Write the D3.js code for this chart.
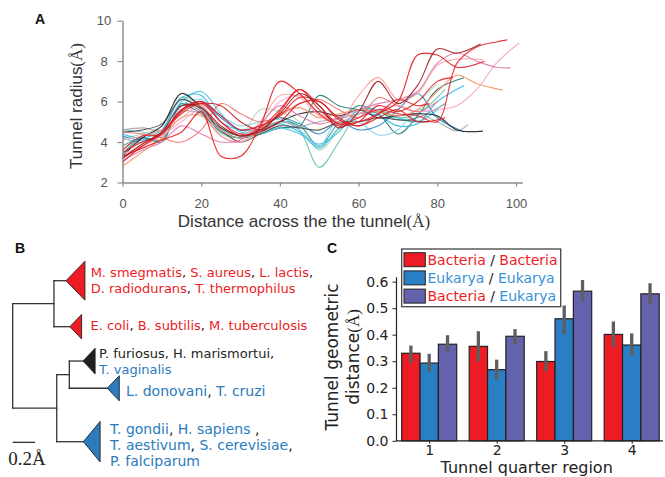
<!DOCTYPE html>
<html>
<head>
<meta charset="utf-8">
<script src="https://cdn.jsdelivr.net/npm/d3@7"></script>
<style>
  body { margin: 0; background: #fff; }
  text { white-space: pre; }
</style>
</head>
<body>
<div id="fig"></div>
<script>
// ---------- A: tunnel radius profiles (radius in Å, sampled every 5 Å; last value sits at the end point)
const distance = [0,5,10,15,20,25,30,35,40,45,50,55,60,65,70,75,80,85,90,95,100];
const radiusTicksX = [0,20,40,60,80,100];
const radiusTicksY = [2,4,6,8,10];

const p01 = [3.3,3.7,4.1,4.5,5.5,3.3,3.3,4.8,7.0,6.4,5.4,4.8,5.0,5.8,5.5,6.0,7.0, 7.2];
const p02 = [3.6,4.3,4.4,5.6,6.0,5.0,4.3,4.7,5.6,6.6,5.8,4.9,5.2,5.6,5.4,5.3,5.0,7.9,8.7,8.95, 9.05];
const p03 = [3.2,3.9,4.5,5.8,5.7,4.8,4.3,4.6,5.4,6.4,5.8,4.7,5.5,7.0,5.9,6.8,8.6,8.4, 8.85];
const p04 = [3.5,4.0,4.4,5.5,6.0,5.3,4.6,4.8,5.3,6.2,6.0,5.2,4.8,5.4,6.0,8.3,8.3,7.7, 8.0];
const p05 = [4.1,4.3,4.6,5.2,5.8,4.6,4.2,5.0,6.3,6.2,5.3,5.0,6.3,7.2,6.1,6.4,7.8,8.1, 8.07];
const p06 = [3.4,3.8,4.3,5.0,5.6,4.3,4.0,4.8,6.0,6.3,5.4,5.0,5.4,5.6,5.8,5.5,5.6,5.8,6.6,7.9, 8.9];
const p07 = [3.1,3.6,4.0,4.8,4.4,4.0,4.1,4.9,5.8,5.3,4.9,5.2,5.6,5.9,6.1,6.5,7.9,8.4,8.0,7.7, 7.67];
const p08 = [2.8,3.5,4.2,5.2,5.3,4.3,4.0,4.6,5.4,5.7,5.2,5.4,5.6,5.5,5.3,5.6,6.5,7.3,6.9, 6.56];
const p09 = [3.6,4.3,4.6,6.2,5.8,4.6,4.2,4.6,5.2,4.6,2.75,4.0,5.4,5.5,5.2,5.4, 6.6];
const p10 = [4.2,4.4,4.8,6.1,5.6,4.4,4.3,5.6,5.5,5.0,3.6,4.6,5.6,5.5,5.5,6.0, 6.9];
const p11 = [3.4,4.2,4.1,5.8,5.4,4.5,4.2,4.4,4.7,4.8,6.3,5.8,5.6,5.4,4.4,5.3,6.6, 7.18];
const p12 = [3.8,4.2,4.0,5.9,5.5,4.6,4.2,4.6,5.0,4.8,3.8,5.0,5.8,5.5,5.1,5.2, 5.9];
const p13 = [4.4,4.2,4.6,6.2,6.3,5.0,4.6,4.6,4.9,4.5,3.7,4.7,5.4,5.3,4.8,4.9,6.0, 6.8];
const p14 = [4.3,4.1,4.4,5.6,6.0,5.2,4.6,4.8,5.2,4.9,4.4,5.0,4.6,4.8,5.6,6.4,5.2, 4.5];
const p15 = [4.6,4.5,4.3,5.8,6.1,5.3,4.8,5.0,5.1,4.6,3.8,5.2,5.0,4.35,4.6,5.6, 5.0];
const p16 = [3.3,4.2,4.8,6.4,5.7,4.7,4.3,4.5,5.0,5.4,5.5,5.3,5.6,5.2,5.3,5.4,5.3,4.6, 4.54];
const p17 = [4.5,4.6,4.9,6.1,5.6,4.6,4.0,4.4,4.8,4.7,4.6,5.0,5.0,5.2,5.1, 5.0];
const p18 = [4.6,4.7,4.6,5.5,5.4,4.7,4.4,4.7,5.0,4.8,5.0,5.2,5.4,5.5,5.3,5.4,5.0,4.55, 4.87];
const p19 = [3.2,3.8,4.5,5.4,5.9,5.0,4.4,4.5,5.5,6.6,5.6,4.9,5.0,5.4,6.1,5.8, 5.9];
const p20 = [4.5,4.4,4.2,4.0,4.6,5.9,5.4,5.0,5.3,5.9,6.1,5.6,5.2,6.2,5.8,5.5, 6.0];
const p21 = [3.0,3.8,4.4,5.6,5.9,5.8,5.0,4.6,5.0,5.9,6.0,5.1,4.8,5.2,5.6,5.0, 5.2];
const p22 = [4.2,4.0,4.5,6.0,6.5,5.4,4.5,4.4,4.7,4.4,3.9,4.5,5.6,5.6,5.2,5.0, 5.6];

const profiles     = [p09,p10,p12,p11,p13,p22,p15,p14,p18,p17,p16,p08,p06,p07,p05,p20,p21,p19,p04,p01,p02,p03];
const profileEndX  = [82, 80, 82, 86.8, 86.8, 80, 82, 86.8, 87.8, 78, 91.6, 96.7, 100.8, 98.7, 91.6, 80, 82, 78, 92, 84, 97.8, 91];
const profileColors = ["#62c3a6","#a4dbb6","#2f9b8f","#1d7874","#29b5e8","#40c0e2","#7bd0ea","#2b86c6","#a3a3a3","#4a4a4a","#222222",
                       "#f9905f","#f59fc8","#e377ad","#f8a1a0","#f26d6d","#d7191c","#e4262e","#e41a1c","#e31a1c","#e8202a","#9e1a1f"];

// ---------- B: tree of tunnel shapes (branch lengths in Å)
const cladeRow   = [0, 2.857, 4.99, 6.68, 10];
const cladeHalf  = [1.21, 0.76, 0.8, 0.78, 1.26];
const cladeDepth = [0.17, 0.105, 0.108, 0.108, 0.15];
const cladeFill  = ["#ed1c24", "#ed1c24", "#231f20", "#2b7bbd", "#2b7bbd"];
const cladeFont  = [13, 13, 13, 14, 14];
const cladeGap   = [5.7, 9, 4, 6.7, 10];
const cladeShift = [0, -1, 0, 2.5, 3.5];
const cladeLabels = [
  [[["M. smegmatis","B"],[", ","k"],["S. aureus","B"],[", ","k"],["L. lactis","B"],[",","k"]],
   [["D. radiodurans","B"],[", ","k"],["T. thermophilus","B"]]],
  [[["E. coli","B"],[", ","k"],["B. subtilis","B"],[", ","k"],["M. tuberculosis","B"]]],
  [[["P. furiosus, H. marismortui,","k"]],
   [["T. vaginalis","E"]]],
  [[["L. donovani","E"],[", ","k"],["T. cruzi","E"]]],
  [[["T. gondii","E"],[", ","k"],["H. sapiens","E"],[" ,","k"]],
   [["T. aestivum","E"],[", ","k"],["S. cerevisiae","E"],[",","k"]],
   [["P. falciparum","E"]]]
];
const treeShape = {children: [
  {len: 0.37, children: [{leaf: 0, len: 0.108}, {leaf: 1, len: 0.143}]},
  {len: 0.395, children: [
    {len: 0.113, children: [{leaf: 2, len: 0.123}, {leaf: 3, len: 0.34}]},
    {leaf: 4, len: 0.239}
  ]}
]};
const scaleBarLen = 0.2;

// ---------- C: tunnel geometric distance per quarter
const regions = ["1","2","3","4"];
const pairNames = ["bacBac","eukEuk","bacEuk"];
const bacBac   = [0.330, 0.356, 0.299, 0.401];
const bacBacLo = [0.293, 0.299, 0.262, 0.353];
const bacBacHi = [0.359, 0.413, 0.338, 0.450];
const eukEuk   = [0.293, 0.268, 0.460, 0.361];
const eukEukLo = [0.262, 0.229, 0.402, 0.322];
const eukEukHi = [0.328, 0.306, 0.510, 0.405];
const bacEuk   = [0.364, 0.394, 0.564, 0.554];
const bacEukLo = [0.332, 0.365, 0.526, 0.514];
const bacEukHi = [0.398, 0.421, 0.606, 0.594];
const distTicks = [0,0.1,0.2,0.3,0.4,0.5,0.6];
const legendLabels = [
  [["Bacteria","B"],[" / ","k"],["Bacteria","B"]],
  [["Eukarya","E"],[" / ","k"],["Eukarya","E"]],
  [["Bacteria","B"],[" / ","k"],["Eukarya","E"]]
];

const textColor = {B: "#ed1c24", E: "#2b7bbd", k: "#231f20"};
const legendColor = {B: "#ed1c24", E: "#3691d8", k: "#222"};
const barColors = ["#ed1c24", "#2a7fc4", "#6562ad"];

const svg = d3.select("#fig").append("svg")
  .attr("width", 665).attr("height", 477)
  .style("font-family", "'Liberation Sans', Arial, sans-serif");

const serif = "'Liberation Serif', 'DejaVu Serif', serif";
const sans2 = "'DejaVu Sans', sans-serif";

// ================= Panel A =================
const xA = d3.scaleLinear().domain([0, 101.6]).range([122.5, 522.3]);
const yA = d3.scaleLinear().domain([2, 10]).range([182.5, 20.7]);
const gA = svg.append("g");

const lineA = d3.line()
  .x(d => xA(d[0])).y(d => yA(d[1]))
  .curve(d3.curveCatmullRom.alpha(0.5));

profiles.forEach((vals, i) => {
  const pts = vals.map((v, j) => [j < vals.length - 1 ? distance[j] : profileEndX[i], v]);
  gA.append("path").datum(pts)
    .attr("d", lineA)
    .attr("fill", "none")
    .attr("stroke", profileColors[i])
    .attr("stroke-width", 1.1)
    .attr("stroke-opacity", 0.9);
});

const axAx = gA.append("g").attr("transform", `translate(0,${yA(2)})`)
  .call(d3.axisBottom(xA).tickValues(radiusTicksX).tickSize(4).tickPadding(12).tickSizeOuter(0));
const axAy = gA.append("g").attr("transform", `translate(${xA(0)},0)`)
  .call(d3.axisLeft(yA).tickValues(radiusTicksY).tickSize(5).tickPadding(5).tickSizeOuter(0));
[axAx, axAy].forEach(ax => {
  ax.select(".domain").attr("stroke", "#8c8c8c").attr("stroke-width", 1.5);
  ax.selectAll(".tick line").attr("stroke", "#8c8c8c").attr("stroke-width", 1.2);
  ax.selectAll(".tick text").attr("fill", "#555").style("font-size", "13px")
    .style("font-family", "'Liberation Sans', Arial, sans-serif");
});
axAy.selectAll(".tick text").attr("text-anchor", "middle").attr("x", -18.5);

const tA = gA.append("text").attr("x", 304).attr("y", 226.7)
  .attr("text-anchor", "middle").attr("fill", "#333").style("font-size", "17px");
tA.append("tspan").text("Distance across the the tunnel");
tA.append("tspan").style("font-family", serif).text("(Å)");

const tAy = gA.append("text")
  .attr("transform", "translate(81.5,106) rotate(-90)")
  .attr("text-anchor", "middle").attr("fill", "#333").style("font-size", "17px");
tAy.append("tspan").text("Tunnel radius");
tAy.append("tspan").style("font-family", serif).text("(Å)");

svg.append("text").attr("x", 35).attr("y", 24).text("A")
  .style("font-weight", "bold").style("font-size", "14px").attr("fill", "#111");

// ================= Panel B =================
const gB = svg.append("g");
const xB = d3.scaleLinear().domain([0, 1]).range([12.7, 124.2]);
const yB = d3.scaleLinear().domain([0, 10]).range([280.7, 441.7]);

const root = d3.hierarchy(treeShape);
root.eachBefore(n => { n.dist = (n.parent ? n.parent.dist : 0) + (n.data.len || 0); });
root.eachAfter(n => { n.row = n.children ? d3.mean(n.children, c => c.row) : cladeRow[n.data.leaf]; });

const branches = [];
root.each(n => {
  if (n.children) {
    const rows = n.children.map(c => c.row);
    branches.push([[n.dist, d3.min(rows)], [n.dist, d3.max(rows)]]);
  }
  if (n.parent) branches.push([[n.parent.dist, n.row], [n.dist, n.row]]);
});
gB.selectAll("line.branch").data(branches).join("line")
  .attr("class", "branch")
  .attr("x1", d => xB(d[0][0])).attr("y1", d => yB(d[0][1]))
  .attr("x2", d => xB(d[1][0])).attr("y2", d => yB(d[1][1]))
  .attr("stroke", "#333").attr("stroke-width", 1.3).attr("stroke-linecap", "square");

const leaves = root.leaves();
gB.selectAll("path.clade").data(leaves).join("path")
  .attr("class", "clade")
  .attr("d", n => {
    const k = n.data.leaf;
    const tip = [xB(n.dist), yB(n.row)];
    const bx = xB(n.dist + cladeDepth[k]);
    return `M${tip}L${bx},${yB(n.row - cladeHalf[k])}L${bx},${yB(n.row + cladeHalf[k])}Z`;
  })
  .attr("fill", n => cladeFill[n.data.leaf])
  .attr("stroke", "#222").attr("stroke-width", 0.9);

leaves.forEach(n => {
  const k = n.data.leaf;
  const lines = cladeLabels[k];
  const fs = cladeFont[k];
  const lh = 16.2;
  const bx = xB(n.dist + cladeDepth[k]) + cladeGap[k];
  const y0 = yB(n.row) - (lines.length - 1) * lh / 2 + fs * 0.36 + cladeShift[k];
  lines.forEach((segs, li) => {
    const t = gB.append("text").attr("x", bx).attr("y", y0 + li * lh)
      .style("font-family", sans2).style("font-size", fs + "px");
    segs.forEach(s => t.append("tspan").attr("fill", textColor[s[1]]).text(s[0]));
  });
});

gB.append("line")
  .attr("x1", xB(0)).attr("x2", xB(scaleBarLen))
  .attr("y1", yB(10.04)).attr("y2", yB(10.04))
  .attr("stroke", "#333").attr("stroke-width", 1.3);
gB.append("text").attr("x", xB(0) - 4.4).attr("y", 465)
  .style("font-family", serif).style("font-size", "19px").attr("fill", "#222")
  .text("0.2Å");

svg.append("text").attr("x", 15).attr("y", 253).text("B")
  .style("font-weight", "bold").style("font-size", "14px").attr("fill", "#111");

// ================= Panel C =================
const gC = svg.append("g").style("font-family", sans2);
const xC = d3.scalePoint().domain(regions).range([429.2, 631.7]);
const xSub = d3.scaleBand().domain(pairNames).range([-27.5, 27.5]);
const yC = d3.scaleLinear().domain([0, 0.6186]).range([440.8, 276.7]);

const means = {bacBac, eukEuk, bacEuk};
const los = {bacBac: bacBacLo, eukEuk: eukEukLo, bacEuk: bacEukLo};
const his = {bacBac: bacBacHi, eukEuk: eukEukHi, bacEuk: bacEukHi};
const barData = [];
regions.forEach((r, i) => pairNames.forEach((p, j) => {
  barData.push({region: r, pair: p, color: barColors[j], v: means[p][i], lo: los[p][i], hi: his[p][i]});
}));

gC.selectAll("rect.bar").data(barData).join("rect")
  .attr("class", "bar")
  .attr("x", d => xC(d.region) + xSub(d.pair))
  .attr("width", xSub.bandwidth())
  .attr("y", d => yC(d.v))
  .attr("height", d => yC(0) - yC(d.v))
  .attr("fill", d => d.color)
  .attr("stroke", "#222").attr("stroke-width", 1.2);

gC.selectAll("line.err").data(barData).join("line")
  .attr("class", "err")
  .attr("x1", d => xC(d.region) + xSub(d.pair) + xSub.bandwidth() / 2)
  .attr("x2", d => xC(d.region) + xSub(d.pair) + xSub.bandwidth() / 2)
  .attr("y1", d => yC(d.lo)).attr("y2", d => yC(d.hi))
  .attr("stroke", "#5e5e5e").attr("stroke-width", 3.3);

const axCx = gC.append("g").attr("transform", `translate(0,${yC(0)})`)
  .call(d3.axisBottom(xC).tickSize(3).tickPadding(1).tickSizeOuter(0));
axCx.select(".domain").attr("d", `M396,0H663`);
const axCy = gC.append("g").attr("transform", "translate(396,0)")
  .call(d3.axisLeft(yC).tickValues(distTicks).tickFormat(d3.format(".1f")).tickSize(3.5).tickPadding(4).tickSizeOuter(0));
[axCx, axCy].forEach(ax => {
  ax.select(".domain").attr("stroke", "#222").attr("stroke-width", 1.2);
  ax.selectAll(".tick line").attr("stroke", "#222");
  ax.selectAll(".tick text").attr("fill", "#222").style("font-size", "14px").style("font-family", sans2);
});

gC.append("text").attr("x", 526.7).attr("y", 473).attr("text-anchor", "middle")
  .attr("fill", "#222").style("font-size", "16px").text("Tunnel quarter region");

const tCy = gC.append("text").attr("transform", "translate(338,357) rotate(-90)")
  .attr("text-anchor", "middle").attr("fill", "#222").style("font-size", "17px");
tCy.append("tspan").attr("x", 0).attr("y", 0).text("Tunnel geometric");
const tCy2 = tCy.append("tspan").attr("x", 0).attr("y", 20.5);
tCy2.append("tspan").text("distance");
tCy2.append("tspan").style("font-family", serif).text("(Å)");

// legend
const lg = gC.append("g");
lg.append("rect").attr("x", 401.7).attr("y", 249).attr("width", 159).attr("height", 57.7)
  .attr("fill", "#fff").attr("stroke", "#444").attr("stroke-width", 1.3);
legendLabels.forEach((segs, i) => {
  const y = 252.7 + i * 18.2;
  lg.append("rect").attr("x", 404).attr("y", y).attr("width", 21.3).attr("height", 14)
    .attr("fill", barColors[i]).attr("stroke", "#222").attr("stroke-width", 1);
  const t = lg.append("text").attr("x", 427.5).attr("y", y + 11.8).style("font-size", "14px");
  segs.forEach(s => t.append("tspan").attr("fill", legendColor[s[1]]).text(s[0]));
});

svg.append("text").attr("x", 327).attr("y", 253).text("C")
  .style("font-weight", "bold").style("font-size", "14px").attr("fill", "#111");
</script>
</body>
</html>
